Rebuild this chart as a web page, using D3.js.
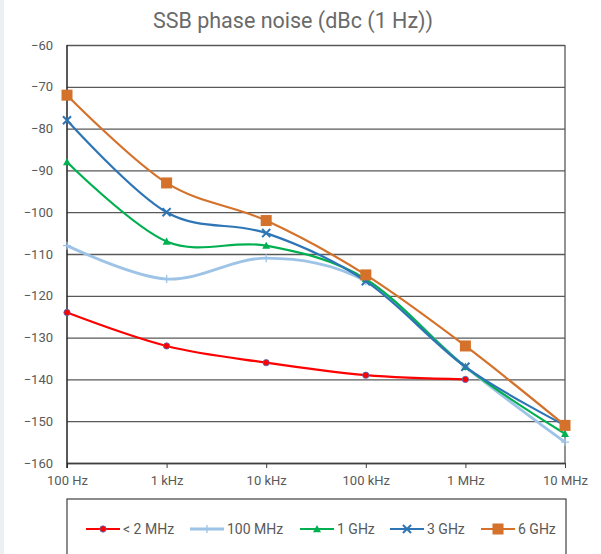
<!DOCTYPE html>
<html>
<head>
<meta charset="utf-8">
<script src="https://cdn.jsdelivr.net/npm/d3@7"></script>
<style>
  body { margin: 0; background: #fff; font-family: Roboto, "Liberation Sans", sans-serif; }
</style>
</head>
<body>
<div id="chart"></div>
<script>
// frequency offsets (categories)
const freqLabels = ["100 Hz", "1 kHz", "10 kHz", "100 kHz", "1 MHz", "10 MHz"]
const seriesNames = ["< 2 MHz", "100 MHz", "1 GHz", "3 GHz", "6 GHz"]

// dBc values
const lt2MHz = [-124, -132, -136, -139, -140, null]
const mhz100 = [-108, -116, -111, -116.5, -137, -155]
const ghz1 = [-88, -107, -108, -116, -137, -153]
const ghz3 = [-78, -100, -105, -116.5, -137, -151]
const ghz6 = [-72, -93, -102, -115, -132, -151]

const yTicks = [-160, -150, -140, -130, -120, -110, -100, -90, -80, -70, -60]

const colors = ["#ff0000", "#9dc3e6", "#00b050", "#2e75b6", "#d4712a"]
const shapes = ["circle", "plus", "triangle", "cross", "square"]
const allSeries = [lt2MHz, mhz100, ghz1, ghz3, ghz6]

var W = 601, H = 554
var margin = { top: 45, left: 67, right: 36, bottom: 91 }

var svg = d3.select("#chart").append("svg")
    .attr("width", W)
    .attr("height", H)

// light strip on the left edge
svg.append("rect").attr("x", 0).attr("y", 0).attr("width", 4).attr("height", H).attr("fill", "#edf0f3")

svg.append("text")
    .attr("x", 293).attr("y", 28)
    .attr("text-anchor", "middle")
    .attr("fill", "#6a6a6a")
    .style("font-size", "21.5px")
    .text("SSB phase noise (dBc (1 Hz))")

var x = d3.scalePoint()
    .domain(freqLabels)
    .range([margin.left, W - margin.right])

var y = d3.scaleLinear()
    .domain([-160, -60])
    .range([H - margin.bottom, margin.top])

// gridlines + y labels
var yAxis = svg.append("g")
    .attr("transform", "translate(" + margin.left + ",0)")
    .call(d3.axisLeft(y).tickValues(yTicks).tickSizeInner(-(x.range()[1] - margin.left)).tickSizeOuter(0).tickPadding(14))
yAxis.select(".domain").remove()
yAxis.selectAll("line").attr("stroke", "#595959").attr("stroke-width", 1.3)
yAxis.selectAll("text").attr("fill", "#595959").style("font-size", "13px").style("font-family", "Roboto, sans-serif")

// x axis
var xAxis = svg.append("g")
    .attr("transform", "translate(0," + y(-160) + ")")
    .call(d3.axisBottom(x).tickSizeInner(5).tickSizeOuter(0).tickPadding(8))
xAxis.select(".domain").attr("stroke", "#404040").attr("stroke-width", 1.3)
xAxis.selectAll("line").attr("stroke", "#404040")
xAxis.selectAll("text").attr("fill", "#595959").style("font-size", "13px").style("font-family", "Roboto, sans-serif")

// plot border sides
svg.append("line").attr("x1", margin.left).attr("x2", margin.left).attr("y1", y(-60)).attr("y2", y(-160) + 5)
    .attr("stroke", "#222").attr("stroke-width", 1.5)
svg.append("line").attr("x1", x.range()[1]).attr("x2", x.range()[1]).attr("y1", y(-60)).attr("y2", y(-160))
    .attr("stroke", "#595959").attr("stroke-width", 1.3)

var line = d3.line()
    .defined(d => d.v != null)
    .x(d => x(d.f))
    .y(d => y(d.v))
    .curve(d3.curveCatmullRom.alpha(0))

function drawMarker(g, shape, color, cx, cy, s) {
    if (shape == "circle") {
        g.append("circle").attr("cx", cx).attr("cy", cy).attr("r", s * 0.45)
            .attr("fill", color).attr("stroke", "#4472c4").attr("stroke-width", 0.8)
    } else if (shape == "plus") {
        g.append("path").attr("d", "M" + (cx - s / 2) + "," + cy + "H" + (cx + s / 2) + "M" + cx + "," + (cy - s / 2) + "V" + (cy + s / 2))
            .attr("stroke", color).attr("stroke-width", 1.3)
    } else if (shape == "triangle") {
        g.append("path").attr("d", "M" + cx + "," + (cy - s * 0.5) + "L" + (cx + s * 0.5) + "," + (cy + s * 0.4) + "L" + (cx - s * 0.5) + "," + (cy + s * 0.4) + "Z")
            .attr("fill", color)
    } else if (shape == "cross") {
        var h = s * 0.45
        g.append("path").attr("d", "M" + (cx - h) + "," + (cy - h) + "L" + (cx + h) + "," + (cy + h) + "M" + (cx + h) + "," + (cy - h) + "L" + (cx - h) + "," + (cy + h))
            .attr("stroke", color).attr("stroke-width", 2)
    } else {
        g.append("rect").attr("x", cx - s / 2).attr("y", cy - s / 2).attr("width", s).attr("height", s).attr("fill", color)
    }
}

var sizes = [7, 8, 8, 9, 11]

allSeries.forEach((vals, i) => {
    var pts = vals.map((v, j) => ({ f: freqLabels[j], v: v }))
    var g = svg.append("g")
    g.append("path")
        .attr("d", line(pts))
        .attr("fill", "none")
        .attr("stroke", colors[i])
        .attr("stroke-width", i == 1 ? 2.8 : 2.2)
    pts.filter(d => d.v != null).forEach(d => drawMarker(g, shapes[i], colors[i], x(d.f), y(d.v), sizes[i]))
})

// legend
var lg = svg.append("g")
lg.append("rect").attr("x", 67).attr("y", 499).attr("width", 499).attr("height", 70)
    .attr("fill", "#fff").attr("stroke", "#404040").attr("stroke-width", 1.2)

var legX = [86, 190, 300, 390, 481]
seriesNames.forEach((name, i) => {
    var ly = 529
    lg.append("line").attr("x1", legX[i]).attr("x2", legX[i] + 34).attr("y1", ly).attr("y2", ly)
        .attr("stroke", colors[i]).attr("stroke-width", i == 1 ? 2.8 : 2.2)
    drawMarker(lg, shapes[i], colors[i], legX[i] + 17, ly, sizes[i])
    lg.append("text").attr("x", legX[i] + 37).attr("y", ly + 5)
        .attr("fill", "#595959").style("font-size", "14px")
        .text(name)
})
</script>
</body>
</html>
